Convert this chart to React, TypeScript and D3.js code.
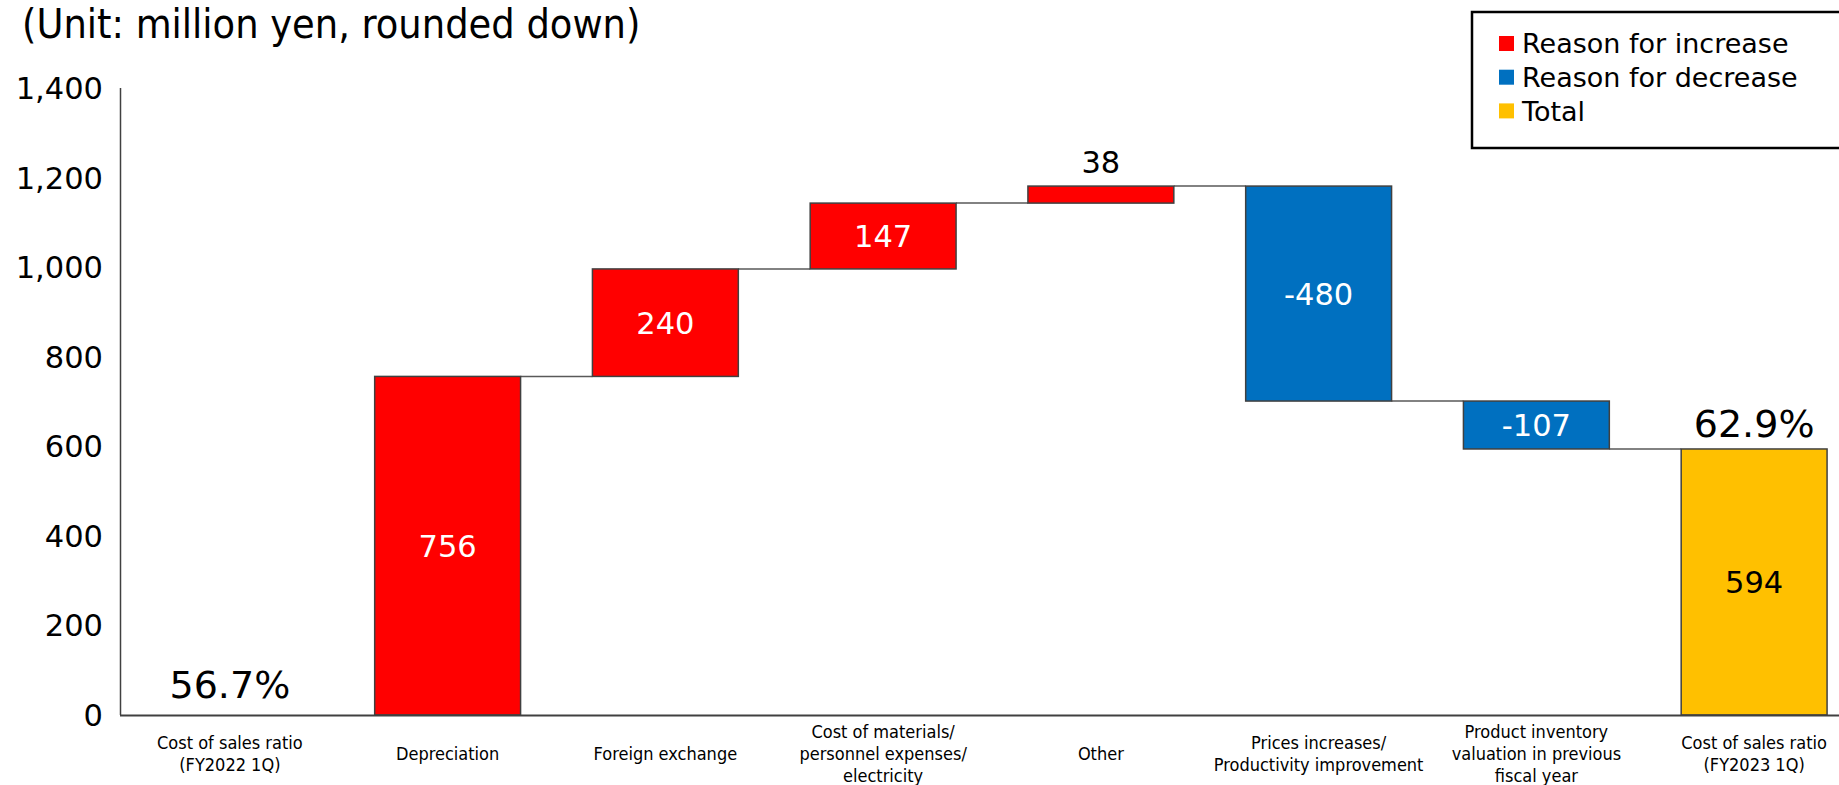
import React from "react";
import * as d3 from "d3";

const categories: string[][] = [
  ["Cost of sales ratio", "(FY2022 1Q)"],
  ["Depreciation"],
  ["Foreign exchange"],
  ["Cost of materials/", "personnel expenses/", "electricity"],
  ["Other"],
  ["Prices increases/", "Productivity improvement"],
  ["Product inventory", "valuation in previous", "fiscal year"],
  ["Cost of sales ratio", "(FY2023 1Q)"],
];
const categoryKeys = ["start", "dep", "fx", "mat", "other", "price", "inv", "end"];
const kinds = ["total", "inc", "inc", "inc", "inc", "dec", "dec", "total"];
const values = [0, 756, 240, 147, 38, -480, -107, 594];
const valueLabels = ["56.7%", "756", "240", "147", "38", "-480", "-107", "594"];
const totalRatioLabels = ["56.7%", "62.9%"];
const yTicks = [0, 200, 400, 600, 800, 1000, 1200, 1400];
const legendItems = [
  { label: "Reason for increase", kind: "inc" },
  { label: "Reason for decrease", kind: "dec" },
  { label: "Total", kind: "total" },
];

const COLORS: Record<string, string> = { inc: "#FF0000", dec: "#0070C0", total: "#FFC000" };
const NUM_FONT = "'DejaVu Sans', Verdana, sans-serif";
const COND_FONT = "'DejaVu Sans Condensed', 'Liberation Sans Narrow', 'DejaVu Sans', sans-serif";

export default function App() {
  const W = 1839, H = 785;
  const x0 = 121, yBottom = 715, yTop = 88;
  const step = 217.75;
  const x = d3.scaleBand<string>().domain(categoryKeys)
    .range([x0, x0 + step * categoryKeys.length])
    .paddingInner(0.33).paddingOuter(0.165);
  const y = d3.scaleLinear().domain([0, 1400]).range([yBottom, yTop]);
  const fmt = d3.format(",");

  // compute waterfall
  let cum = 0;
  const bars = values.map((v, i) => {
    let lo: number, hi: number;
    if (kinds[i] === "total") {
      lo = 0; hi = i === 0 ? v : cum;
      if (i === 0) cum = v;
    } else {
      const s = cum; cum += v; lo = Math.min(s, cum); hi = Math.max(s, cum);
    }
    return { i, key: categoryKeys[i], kind: kinds[i], lo, hi, end: kinds[i] === "total" ? hi : cum };
  });

  return (
    <svg width={W} height={H} style={{ display: "block", position: "absolute", left: 0, top: 0 }}>
      <rect width={W} height={H} fill="#fff" />
      <text x={22} y={38} fontFamily={COND_FONT} fontSize={41} fill="#000">(Unit: million yen, rounded down)</text>

      {/* y ticks */}
      {yTicks.map(t => (
        <text key={t} x={103} y={y(t)} dy="0.36em" textAnchor="end" fontFamily={NUM_FONT} fontSize={30.5} fill="#000">{fmt(t)}</text>
      ))}

      {/* connectors */}
      {bars.slice(1, -1).map((b, k) => {
        const next = bars[b.i + 1];
        return (
          <line key={"c" + k} x1={x(b.key)! + x.bandwidth()} x2={x(next.key)!} y1={y(b.end)} y2={y(b.end)} stroke="#595959" strokeWidth={1.5} />
        );
      })}

      {/* bars */}
      {bars.map(b => b.hi - b.lo > 0 ? (
        <rect key={b.key} x={x(b.key)} y={y(b.hi)} width={x.bandwidth()} height={y(b.lo) - y(b.hi)}
          fill={COLORS[b.kind]} stroke="#404040" strokeWidth={1.5} />
      ) : null)}

      {/* axes */}
      <line x1={120.5} x2={120.5} y1={yTop} y2={yBottom} stroke="#404040" strokeWidth={1.5} />
      <line x1={120} x2={W} y1={yBottom + 0.5} y2={yBottom + 0.5} stroke="#404040" strokeWidth={2} />

      {/* value labels */}
      {bars.map(b => {
        const cx = x(b.key)! + x.bandwidth() / 2;
        if (b.i === 0) return null;
        if (b.key === "other") {
          return <text key={"l" + b.key} x={cx} y={y(b.hi) - 13} textAnchor="middle" fontFamily={NUM_FONT} fontSize={30.5} fill="#000">{valueLabels[b.i]}</text>;
        }
        const cy = (y(b.hi) + y(b.lo)) / 2;
        return <text key={"l" + b.key} x={cx} y={cy} dy="0.36em" textAnchor="middle" fontFamily={NUM_FONT} fontSize={30.5}
          fill={b.kind === "total" ? "#000" : "#fff"}>{valueLabels[b.i]}</text>;
      })}

      {/* ratio labels */}
      <text x={x("start")! + x.bandwidth() / 2} y={y(0) - 17} textAnchor="middle" fontFamily={NUM_FONT} fontSize={38} fill="#000">{totalRatioLabels[0]}</text>
      <text x={x("end")! + x.bandwidth() / 2} y={y(bars[7].hi) - 12} textAnchor="middle" fontFamily={NUM_FONT} fontSize={38} fill="#000">{totalRatioLabels[1]}</text>

      {/* category labels */}
      {categories.map((lines, i) => {
        const cx = x(categoryKeys[i])! + x.bandwidth() / 2;
        const lh = 22;
        const startY = 754 - (lines.length - 1) * lh / 2;
        return (
          <text key={"cat" + i} textAnchor="middle" fontFamily={COND_FONT} fontSize={18} fill="#000">
            {lines.map((ln, j) => (
              <tspan key={j} x={cx} y={startY + j * lh} dy="0.36em">{ln}</tspan>
            ))}
          </text>
        );
      })}

      {/* legend */}
      <rect x={1472} y={12} width={400} height={136} fill="#fff" stroke="#000" strokeWidth={2.5} />
      {legendItems.map((it, i) => (
        <g key={it.label} transform={`translate(1499, ${36 + i * 33.7})`}>
          <rect width={15} height={15} fill={COLORS[it.kind]} />
          <text x={23} y={7.5} dy="0.36em" fontFamily={NUM_FONT} fontSize={27} fill="#000">{it.label}</text>
        </g>
      ))}
    </svg>
  );
}
